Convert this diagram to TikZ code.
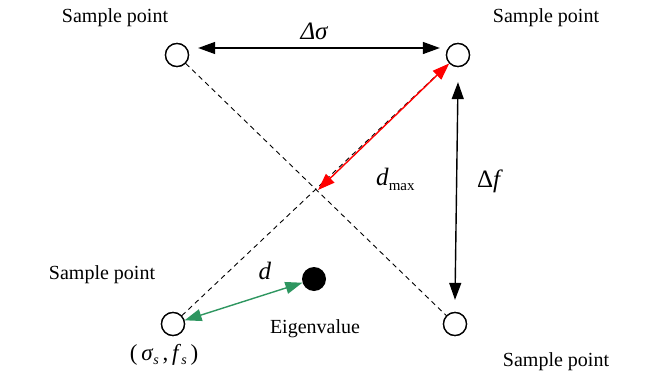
\documentclass[tikz,border=0pt]{standalone}
\usepackage{fontspec}
\setmainfont{Liberation Serif}
\usetikzlibrary{arrows.meta,calc}
\definecolor{dgreen}{RGB}{46,150,96}
\begin{document}
\begin{tikzpicture}[x=1pt,y=-1pt,
  sample/.style={circle,draw,line width=1.3pt,minimum size=23pt,inner sep=0pt,fill=white},
  eig/.style={circle,fill=black,minimum size=24pt,inner sep=0pt},
  lbl/.style={font=\fontsize{20}{22}\selectfont,inner sep=0pt},
  big/.style={font=\fontsize{25}{27}\selectfont,inner sep=0pt},
  dbl/.style={line width=1.4pt,{Triangle[length=17pt,width=12pt]}-{Triangle[length=17pt,width=12pt]}},
  diag/.style={dashed,line width=0.9pt,dash pattern=on 5pt off 4pt}]
\useasboundingbox (0,0) rectangle (651,383);
\coordinate (cross) at (318,190);
\node[sample] (tl) at (177,55) {};
\node[sample] (tr) at (458,55) {};
\node[sample] (bl) at (173,324) {};
\node[sample] (br) at (455,324) {};
\node[eig] (ev) at (314,279) {};
\draw[diag] (tl) -- (br);
\draw[diag] (bl) -- (tr);
\node[sample] at (tl) {};
\node[sample] at (tr) {};
\node[sample] at (bl) {};
\node[sample] at (br) {};
\draw[dbl] ([shift={(9,-7)}]tl.east) -- ([shift={(-6,-7)}]tr.west);
\draw[dbl] ([yshift=-15]tr.south) -- ([yshift=12]br.north);
\draw[dbl,red] (cross) -- (tr);
\draw[dbl,dgreen] (bl) -- (ev);
\node[lbl] (l1) at (115,18) {Sample point};
\node[lbl] (l2) at (546,18) {Sample point};
\node[lbl] (l3) at (102,275) {Sample point};
\node[lbl] (l4) at (556,362) {Sample point};
\node[big] (ds) at (314,31) {\itshape Δσ};
\node[big] (df) at (490,181) {Δ\textit{f}};
\node[big,anchor=west] (dm) at (376,179) {\textit{d}\raisebox{-5pt}{\fontsize{15}{16}\selectfont max}};
\node[big] (dd) at (265,271) {\textit{d}};
\node[lbl] (ev1) at (315,329) {Eigenvalue};
\node[font=\fontsize{23}{25}\selectfont,inner sep=0pt] (sf) at (164,355) {(\,\textit{σ}\raisebox{-4pt}{\fontsize{14}{15}\selectfont\textit{s}}\,,\,\textit{f}\raisebox{-4pt}{\fontsize{14}{15}\selectfont\textit{s}}\,)};
\end{tikzpicture}
\end{document}
